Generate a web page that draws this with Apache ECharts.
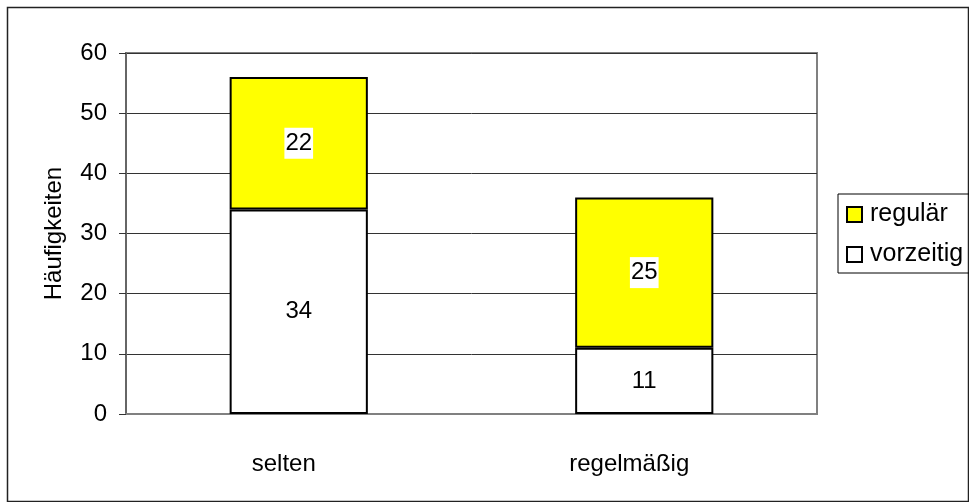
<!DOCTYPE html>
<html>
<head>
<meta charset="utf-8">
<script src="https://cdn.jsdelivr.net/npm/echarts@6/dist/echarts.min.js"></script>
<style>
  html, body { margin: 0; padding: 0; background: #fff; }
  #chart { width: 969px; height: 502px; }
</style>
</head>
<body>
<div id="chart"></div>
<script>
var categories = ['selten', 'regelmäßig'];
var vorzeitig = [34, 11];
var regulaer = [22, 25];
var yTicks = { min: 0, max: 60, step: 10 };

var font = "'Liberation Sans', Arial, sans-serif";

var myChart = echarts.init(document.getElementById('chart'));

var barLabel = {
    show: true,
    position: 'inside',
    color: '#000',
    fontFamily: font,
    fontSize: 24,
    backgroundColor: '#fff',
    padding: [4, 1, 3, 1]
};

var option = {
    backgroundColor: '#fff',
    animation: false,
    textStyle: { fontFamily: font },
    graphic: [
        {
            type: 'rect',
            shape: { x: 7.5, y: 7.5, width: 961, height: 494 },
            style: { fill: 'none', stroke: '#222', lineWidth: 1.5 },
            silent: true
        }
    ],
    grid: {
        left: 126,
        right: 152,
        top: 53,
        bottom: 88,
        show: true,
        borderColor: '#808080',
        borderWidth: 2,
        backgroundColor: '#fff'
    },
    legend: {
        data: ['regulär', 'vorzeitig'],
        orient: 'vertical',
        left: 838,
        top: 194,
        itemWidth: 15,
        itemHeight: 15,
        itemGap: 15,
        padding: [8, 12, 6, 8],
        borderColor: '#000',
        borderWidth: 1,
        icon: 'rect',
        textStyle: { color: '#000', fontSize: 25, fontFamily: font, padding: [0, 0, 0, 3] }
    },
    xAxis: {
        type: 'category',
        data: categories,
        axisLine: { lineStyle: { color: '#808080', width: 2 } },
        axisTick: { show: false },
        axisLabel: {
            color: '#000',
            fontSize: 24,
            margin: 38,
            padding: [0, 30, 0, 0]
        }
    },
    yAxis: {
        type: 'value',
        min: yTicks.min,
        max: yTicks.max,
        interval: yTicks.step,
        name: 'Häufigkeiten',
        nameLocation: 'middle',
        nameRotate: 90,
        nameGap: 60,
        nameTextStyle: { color: '#000', fontSize: 24, fontFamily: font },
        axisLine: { show: true, lineStyle: { color: '#666', width: 2 } },
        axisTick: { show: true, length: 7, lineStyle: { color: '#333', width: 1 } },
        axisLabel: { color: '#000', fontSize: 24, margin: 19 },
        splitLine: { lineStyle: { color: '#333', width: 1 } }
    },
    series: [
        {
            name: 'vorzeitig',
            type: 'bar',
            stack: 'total',
            barWidth: '40%',
            data: vorzeitig,
            itemStyle: { color: '#fff', borderColor: '#000', borderWidth: 2 },
            label: barLabel
        },
        {
            name: 'regulär',
            type: 'bar',
            stack: 'total',
            barWidth: '40%',
            data: regulaer,
            itemStyle: { color: '#ffff00', borderColor: '#000', borderWidth: 2 },
            label: barLabel
        }
    ]
};

myChart.setOption(option);
</script>
</body>
</html>
